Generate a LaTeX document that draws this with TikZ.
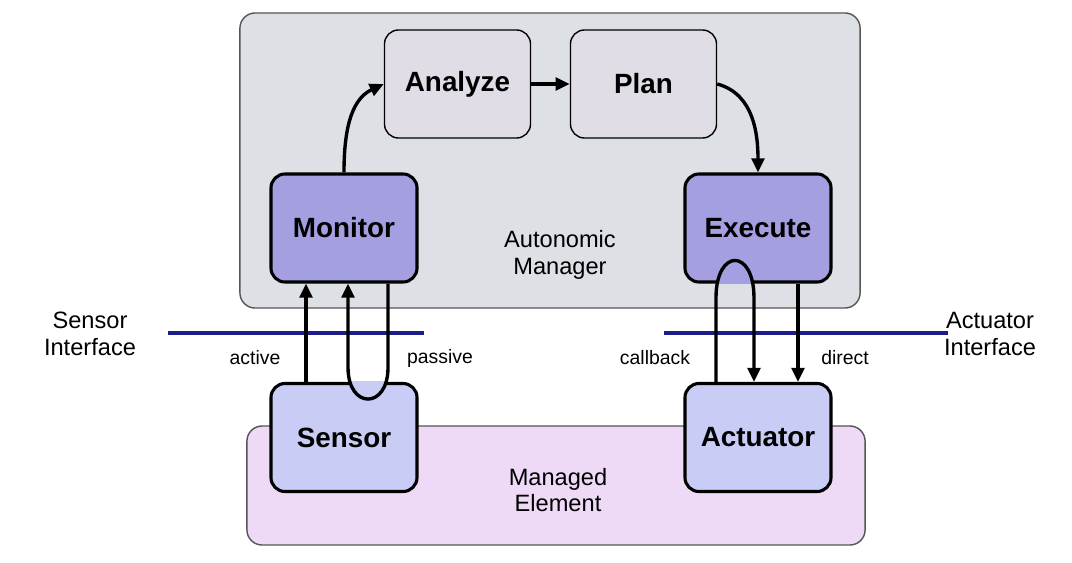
\documentclass[tikz,border=0pt]{standalone}
\usepackage{fontspec}
\setmainfont{Liberation Sans}
\usetikzlibrary{arrows.meta}

\definecolor{gestor}{HTML}{DDE0E4}
\definecolor{elemento}{HTML}{EED9F6}
\definecolor{analisis}{HTML}{E1DDE6}
\definecolor{monitor}{HTML}{A49FE0}
\definecolor{sensor}{HTML}{C9CDF6}
\definecolor{interfaz}{HTML}{1C1C8A}
\definecolor{borde}{HTML}{555555}

\begin{document}
\begin{tikzpicture}[x=0.025cm, y=0.025cm,
    fondo/.style={draw=borde, line width=1pt, rounded corners=0.38cm},
    caja/.style={draw=black, rounded corners=0.35cm, minimum width=3.65cm,
      minimum height=2.7cm, font=\fontsize{19.8}{22}\selectfont\bfseries},
    fina/.style={caja, line width=1pt, fill=analisis},
    gruesa/.style={caja, line width=2.2pt},
    texto/.style={align=center, font=\fontsize{16.8}{19}\selectfont},
    chico/.style={font=\fontsize{13.8}{16}\selectfont},
    flecha/.style={line width=2.4pt, -{Triangle[length=10pt,width=9pt]}},
    linea/.style={draw=interfaz, line width=2.2pt}]
    \useasboundingbox (0,0) rectangle (1072,562);

    % Fondos
    \node[fondo, fill=gestor, minimum width=15.5cm, minimum height=7.375cm] (manager) at (550,401.5) {};
    \node[fondo, fill=elemento, minimum width=15.45cm, minimum height=2.975cm] (element) at (556,76.5) {};
    \node[texto] (managerlabel) at (560,307) {Autonomic\\Manager};
    \node[texto] (elementlabel) at (558,72) {Managed\\Element};

    % Cajas
    \node[fina] (analyze) at (457.5,478) {Analyze};
    \node[fina] (plan) at (643.5,478) {Plan};
    \node[gruesa, fill=monitor] (monitor) at (344,334) {Monitor};
    \node[gruesa, fill=monitor] (execute) at (758,334) {Execute};
    \node[gruesa, fill=sensor] (sensor) at (344,124.5) {Sensor};
    \node[gruesa, fill=sensor] (actuator) at (758,124.5) {Actuator};

    % Interfaces
    \coordinate (sensorA) at (168,229);
    \coordinate (sensorB) at (424,229);
    \coordinate (actuatorA) at (664,229);
    \coordinate (actuatorB) at (948,229);
    \draw[linea] (sensorA) -- (sensorB);
    \draw[linea] (actuatorA) -- (actuatorB);
    \node[texto] (sensorif) at (90,228) {Sensor\\Interface};
    \node[texto] (actuatorif) at (990,228) {Actuator\\Interface};

    \node[chico] (active) at (255,204) {active};
    \node[chico] (passive) at (440,204) {passive};
    \node[chico] (callback) at (655,204) {callback};
    \node[chico] (direct) at (845,204) {direct};

    % Lazo de control
    \draw[flecha] (monitor.north) to[out=90, in=205] (analyze.west);
    \draw[flecha] (analyze.east) -- (plan.west);
    \draw[flecha] (plan.east) to[out=-15, in=90] (execute.north);

    % Sensor
    \begin{scope}
      \clip (sensor.south west) rectangle (sensor.north east);
      \fill[sensor] ([xshift=1.1cm]monitor.south) ++(0,-84)
        .. controls +(0,-42) and +(0,-42) .. ++(-40,0) -- cycle;
    \end{scope}
    \draw[flecha] ([xshift=-0.95cm]sensor.north) -- ([xshift=-0.95cm]monitor.south);
    \draw[flecha] ([xshift=1.1cm]monitor.south) -- ++(0,-84)
      .. controls +(0,-42) and +(0,-42) .. ++(-40,0) -- ([xshift=0.1cm]monitor.south);

    % Actuador
    \begin{scope}
      \clip (execute.south west) rectangle (execute.north east);
      \fill[monitor] ([xshift=-1.05cm]actuator.north) ++(0,84)
        .. controls +(0,50) and +(0,50) .. ++(38,0) -- cycle;
    \end{scope}
    \draw[flecha] ([xshift=-1.05cm]actuator.north) -- ++(0,84)
      .. controls +(0,50) and +(0,50) .. ++(38,0) -- ([xshift=-0.1cm]actuator.north);
    \draw[flecha] ([xshift=1cm]execute.south) -- ([xshift=1cm]actuator.north);

\end{tikzpicture}
\end{document}
